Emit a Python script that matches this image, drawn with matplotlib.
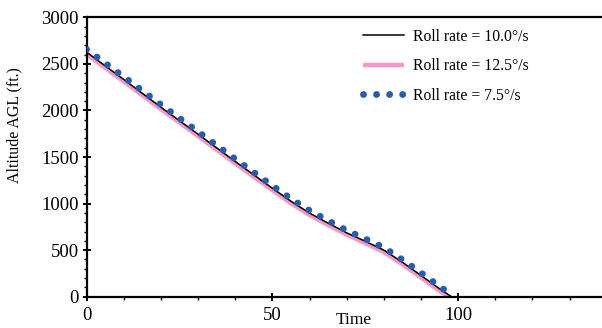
import numpy as np
import matplotlib
matplotlib.use("Agg")
import matplotlib.pyplot as plt
from matplotlib.ticker import MultipleLocator

plt.rcParams['font.family'] = ['Liberation Serif', 'DejaVu Serif']

# altitude vs time
t_75 = [0, 10, 20, 30, 40, 50, 55, 60, 65, 70, 75, 80, 85, 90, 95, 98.8]
alt_75 = [2656, 2361, 2062, 1772, 1479, 1192, 1052, 925, 817, 712, 621, 527, 397, 256, 110, 5]

t_100 = [0, 10, 20, 30, 40, 50, 55, 60, 65, 70, 75, 80, 85, 90, 95, 98.2]
alt_100 = [2626, 2333, 2035, 1745, 1452, 1165, 1025, 898, 790, 686, 595, 500, 370, 228, 85, 0]

t_125 = [0, 10, 20, 30, 40, 50, 55, 60, 65, 70, 75, 80, 85, 90, 95, 98.0]
alt_125 = [2605, 2312, 2014, 1724, 1431, 1144, 1004, 877, 770, 666, 575, 479, 348, 205, 62, -15]

labels = ['Roll rate = 10.0°/s', 'Roll rate = 12.5°/s', 'Roll rate = 7.5°/s']

fig = plt.figure(figsize=(6.02, 3.28), dpi=100)
ax = fig.add_axes([0.1437, 0.0954, 0.8563, 0.8518])

l2, = ax.plot(t_125, alt_125, color='#F49AC4', lw=3.2, solid_capstyle='butt', zorder=2)
l1, = ax.plot(t_100, alt_100, color='black', lw=1.1, zorder=3)
l3, = ax.plot(t_75, alt_75, color='#2A5CAA', lw=5.0, dashes=(0.001, 1.88),
              dash_capstyle='round', zorder=4)

ax.set_xlim(0, 138.7)
ax.set_ylim(0, 3000)

ax.xaxis.set_major_locator(MultipleLocator(50))
ax.xaxis.set_minor_locator(MultipleLocator(10))
ax.yaxis.set_major_locator(MultipleLocator(500))
ax.yaxis.set_minor_locator(MultipleLocator(100))

for s in ['left', 'bottom', 'top']:
    ax.spines[s].set_linewidth(1.6)
ax.spines['right'].set_visible(False)

ax.tick_params(which='major', direction='inout', length=5.5, width=1.4, labelsize=13.5)
ax.tick_params(which='minor', direction='out', length=2.5, width=1.0)
ax.tick_params(axis='x', which='major', pad=5)
ax.tick_params(axis='y', which='major', pad=3)

ax.set_xlabel('Time', fontsize=12.5)
ax.xaxis.set_label_coords(0.518, -0.055)
ax.set_ylabel('Altitude AGL (ft.)', fontsize=11.5)
ax.yaxis.set_label_coords(-0.125, 0.615)

leg = ax.legend([l1, l2, l3], labels, frameon=False, fontsize=11.3,
                loc='upper left', bbox_to_anchor=(0.6025, 0.912),
                bbox_transform=fig.transFigure, borderpad=0, borderaxespad=0,
                handlelength=2.6, handletextpad=0.6, labelspacing=0.85)

fig.savefig('out.png', dpi=100)
